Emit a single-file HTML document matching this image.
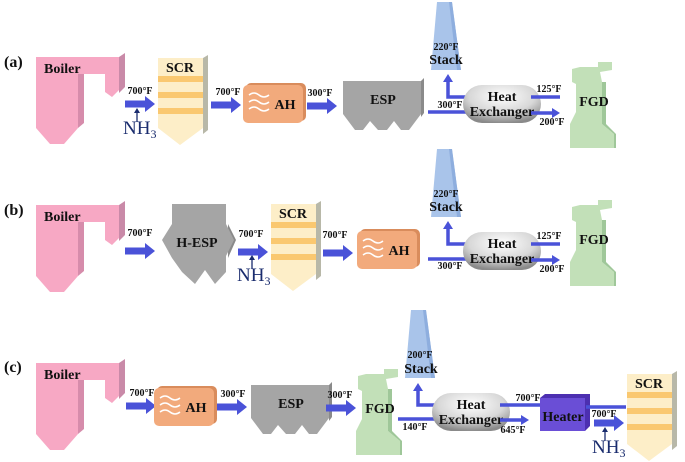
<!DOCTYPE html>
<html><head><meta charset="utf-8"><style>
html,body{margin:0;padding:0;background:#fff}
svg{display:block}
text{font-family:"Liberation Serif",serif;font-weight:bold;fill:#111}
.t{font-size:10px}
.l{font-size:14px}
.lab{font-size:16px}
.nh{font-size:19px;fill:#1a2c6e;font-weight:normal}
</style></head><body>
<svg width="685" height="462" viewBox="0 0 685 462" xmlns="http://www.w3.org/2000/svg">
<defs>
<radialGradient id="hx" cx="50%" cy="30%" r="70%">
<stop offset="0" stop-color="#ffffff"/><stop offset="0.6" stop-color="#d8d8d8"/><stop offset="1" stop-color="#8a8a8a"/>
</radialGradient>
<g id="boiler">
<polygon points="83,0 89,-4 89,30 83,36" fill="#c98aa8"/>
<polygon points="0,0 83,0 83,33 76,40 69,35 69,17 42,17 42,71 28,87 14,87 0,71" fill="#f7a8c4"/>
<polygon points="42,17 48,17 48,66 42,71" fill="#d68cab"/>
<text x="8" y="16" class="l">Boiler</text>
</g>
<g id="scr">
<polygon points="45,0 50,-3 50,72 45,76" fill="#b8b8a8"/>
<polygon points="0,0 45,0 45,70 22,87 0,70" fill="#fdeec8"/>
<rect x="0" y="18" width="45" height="6" fill="#fac870"/>
<rect x="0" y="34" width="45" height="6" fill="#fac870"/>
<rect x="0" y="50" width="45" height="6" fill="#fac870"/>
<text x="22" y="14" class="l" text-anchor="middle">SCR</text>
</g>
<g id="ah">
<rect x="3" y="-2" width="60" height="38" rx="5" fill="#d98c5c"/>
<rect x="0" y="0" width="60" height="38" rx="5" fill="#f2aa7c"/>
<path d="M6,10 q5,-4 10,0 t10,0 M6,17 q5,-4 10,0 t10,0 M6,24 q5,-4 10,0 t10,0" stroke="#fff" stroke-width="1.5" fill="none"/>
<text x="42" y="24" class="l" text-anchor="middle">AH</text>
</g>
<g id="esp">
<polygon points="78,0 81,-3 81,32 78,36" fill="#8a8a8a"/>
<polygon points="0,0 78,0 78,33 66,49 58,49 51,40 44,49 35,49 27,40 20,49 12,49 0,33" fill="#a5a5a5"/>
<text x="40" y="23" class="l" text-anchor="middle">ESP</text>
</g>
<g id="stack">
<polygon points="6,0 21,0 30,68 0,68" fill="#a9c4ea"/>
<polygon points="18,0 21,0 30,68 26,68" fill="#8eaede"/>
</g>
<g id="fgd">
<polygon points="2,7 10,5 28,5 28,0 42,0 42,8 30,10 32,20 32,62 44,72 44,86 0,86 0,62 6,50 6,22 2,20" fill="#c2e0b8"/>
<polygon points="34,20 36,20 36,62 46,72 46,86 44,86 44,72 32,62 32,20" fill="#9fc799"/>
<text x="24" y="44" class="l" text-anchor="middle">FGD</text>
</g>
<g id="hxg">
<rect x="0" y="0" width="78" height="38" rx="19" fill="url(#hx)"/>
<text x="39" y="16" class="l" text-anchor="middle">Heat</text>
<text x="39" y="31" class="l" text-anchor="middle">Exchanger</text>
</g>
<g id="arr"><polygon points="0,-3.5 20,-3.5 20,-8 30,0 20,8 20,3.5 0,3.5" fill="#4a52d8"/></g>
<g id="nh"><line x1="0" y1="-6" x2="0" y2="-16" stroke="#1a2c6e" stroke-width="1.3"/><polygon points="-3,-15 3,-15 0,-20" fill="#1a2c6e"/></g>
</defs>

<!-- Row a -->
<text x="4" y="67" class="lab">(a)</text>
<use href="#boiler" x="36" y="57"/>
<use href="#arr" x="125" y="104"/><text x="140" y="94" class="t" text-anchor="middle">700°F</text>
<use href="#nh" x="137" y="128"/><text x="123" y="134" class="nh">NH<tspan font-size="12" dy="4">3</tspan></text>
<use href="#scr" x="158" y="58"/>
<use href="#arr" x="211" y="105"/><text x="228" y="95" class="t" text-anchor="middle">700°F</text>
<use href="#ah" x="243" y="85"/>
<use href="#arr" x="307" y="106"/><text x="320" y="96" class="t" text-anchor="middle">300°F</text>
<use href="#esp" x="343" y="81"/>
<use href="#stack" x="431" y="2"/>
<text x="446" y="50" class="t" text-anchor="middle">220°F</text><text x="446" y="64" class="l" text-anchor="middle">Stack</text>
<path d="M428,112 H470" stroke="#4a52d8" stroke-width="3.5" fill="none"/>
<text x="450" y="108" class="t" text-anchor="middle">300°F</text>
<path d="M470,97 H448 V80" stroke="#4a52d8" stroke-width="3.5" fill="none"/><polygon points="443,82 453,82 448,74" fill="#4a52d8"/>
<use href="#hxg" x="463" y="85"/>
<path d="M531,97 H560" stroke="#4a52d8" stroke-width="3.5"/><text x="549" y="92" class="t" text-anchor="middle">125°F</text>
<path d="M531,113 H553" stroke="#4a52d8" stroke-width="3.5"/><polygon points="552,108 560,113 552,118" fill="#4a52d8"/>
<text x="552" y="125" class="t" text-anchor="middle">200°F</text>
<use href="#fgd" x="570" y="62"/>

<!-- Row b -->
<text x="4" y="215" class="lab">(b)</text>
<use href="#boiler" x="36" y="205"/>
<use href="#arr" x="125" y="251"/><text x="140" y="236" class="t" text-anchor="middle">700°F</text>
<polygon points="228,204 228,224 236,240 228,258 228,204" fill="#8a8a8a"/>
<polygon points="172,204 226,204 226,224 234,240 226,256 226,272 215,284 205,270 195,284 182,272 172,258 162,240 172,224" fill="#a5a5a5"/>
<text x="197" y="247" class="l" text-anchor="middle">H-ESP</text>
<use href="#arr" x="238" y="252"/><text x="251" y="237" class="t" text-anchor="middle">700°F</text>
<use href="#nh" x="252" y="275"/><text x="237" y="281" class="nh">NH<tspan font-size="12" dy="4">3</tspan></text>
<use href="#scr" x="271" y="204"/>
<use href="#arr" x="323" y="253"/><text x="335" y="238" class="t" text-anchor="middle">700°F</text>
<use href="#ah" x="357" y="231"/>
<use href="#stack" x="431" y="149"/>
<text x="446" y="197" class="t" text-anchor="middle">220°F</text><text x="446" y="211" class="l" text-anchor="middle">Stack</text>
<path d="M428,259 H470" stroke="#4a52d8" stroke-width="3.5" fill="none"/>
<text x="450" y="269" class="t" text-anchor="middle">300°F</text>
<path d="M470,244 H448 V227" stroke="#4a52d8" stroke-width="3.5" fill="none"/><polygon points="443,229 453,229 448,221" fill="#4a52d8"/>
<use href="#hxg" x="463" y="232"/>
<path d="M531,244 H560" stroke="#4a52d8" stroke-width="3.5"/><text x="549" y="239" class="t" text-anchor="middle">125°F</text>
<path d="M531,260 H553" stroke="#4a52d8" stroke-width="3.5"/><polygon points="552,255 560,260 552,265" fill="#4a52d8"/>
<text x="552" y="272" class="t" text-anchor="middle">200°F</text>
<use href="#fgd" x="570" y="200"/>

<!-- Row c -->
<text x="4" y="372" class="lab">(c)</text>
<use href="#boiler" x="36" y="363"/>
<use href="#arr" x="126" y="406"/><text x="142" y="396" class="t" text-anchor="middle">700°F</text>
<use href="#ah" x="154" y="388"/>
<use href="#arr" x="217" y="407"/><text x="233" y="397" class="t" text-anchor="middle">300°F</text>
<use href="#esp" x="251" y="385"/>
<use href="#arr" x="326" y="408"/><text x="340" y="398" class="t" text-anchor="middle">300°F</text>
<use href="#fgd" x="356" y="369"/>
<use href="#stack" x="405" y="310"/>
<text x="420" y="358" class="t" text-anchor="middle">200°F</text><text x="421" y="373" class="l" text-anchor="middle">Stack</text>
<path d="M398,419 H437" stroke="#4a52d8" stroke-width="3.5" fill="none"/>
<text x="415" y="430" class="t" text-anchor="middle">140°F</text>
<path d="M437,405 H418 V389" stroke="#4a52d8" stroke-width="3.5" fill="none"/><polygon points="413,391 423,391 418,383" fill="#4a52d8"/>
<use href="#hxg" x="432" y="393"/>
<path d="M500,405 H540" stroke="#4a52d8" stroke-width="3.5"/><text x="528" y="401" class="t" text-anchor="middle">700°F</text>
<path d="M500,420 H522" stroke="#4a52d8" stroke-width="3.5"/><polygon points="521,415 529,420 521,425" fill="#4a52d8"/>
<text x="513" y="433" class="t" text-anchor="middle">645°F</text>
<polygon points="540,398 545,394 590,394 590,426 585,431 540,431" fill="#4c2fb0"/>
<rect x="540" y="398" width="45" height="33" fill="#6a4ed6"/>
<text x="563" y="421" class="l" text-anchor="middle">Heater</text>
<path d="M586,407 H626" stroke="#4a52d8" stroke-width="3.5"/>
<use href="#arr" x="594" y="423"/><text x="604" y="417" class="t" text-anchor="middle">700°F</text>
<use href="#nh" x="605" y="447"/><text x="592" y="453" class="nh">NH<tspan font-size="12" dy="4">3</tspan></text>
<use href="#scr" x="627" y="374"/>
</svg>
</body></html>
